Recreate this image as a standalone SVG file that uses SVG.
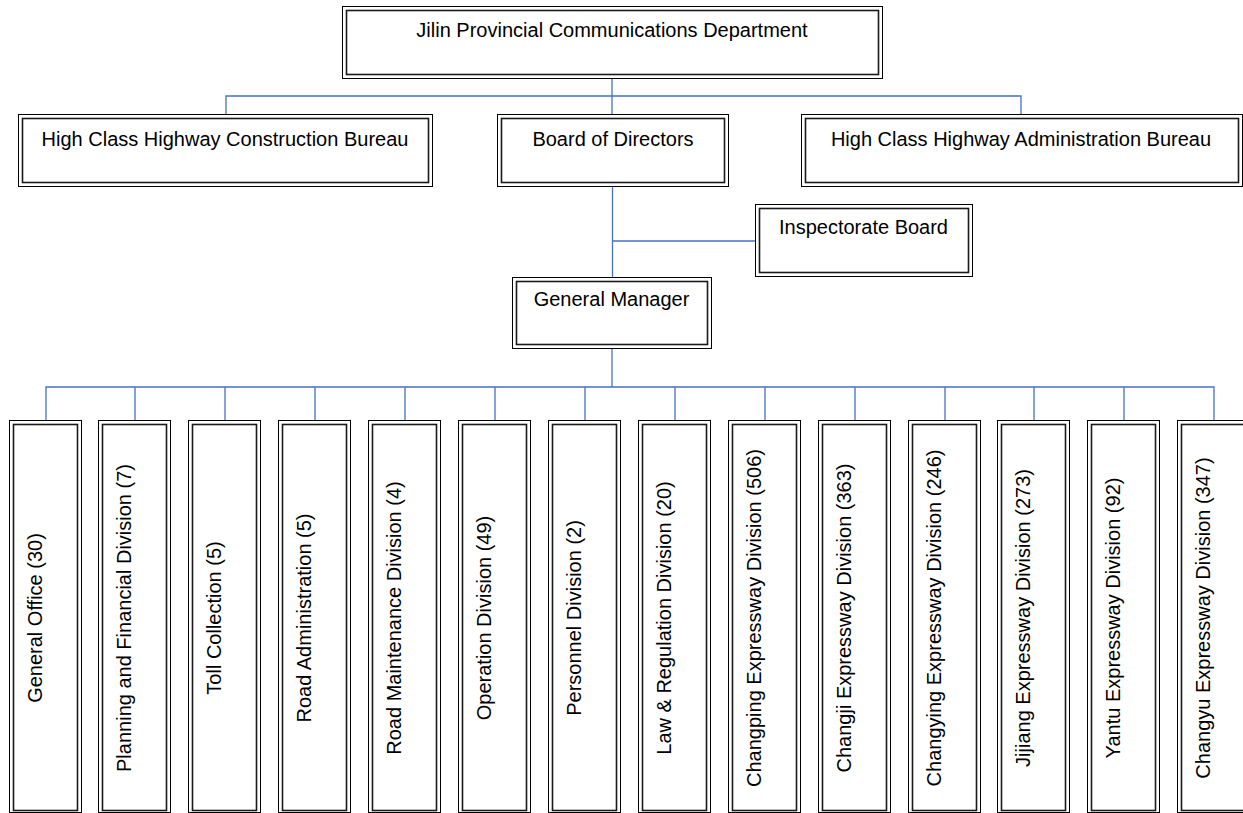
<svg xmlns="http://www.w3.org/2000/svg" width="1243" height="813" viewBox="0 0 1243 813">
<style>
.o{fill:#fff;stroke:#000;stroke-width:1}
.i{fill:none;stroke:#1a1a1a;stroke-width:1.6}
.t{font-family:"Liberation Sans",Arial,sans-serif;font-size:20px;fill:#000;text-anchor:middle}
.c{fill:none;stroke:#4472C4;stroke-width:1.3}
</style>
<rect width="1243" height="813" fill="#fff"/>
<g id="connectors">
<path class="c" d="M612,79V96M226,114V96H1021V114M612,96V114"/>
<path class="c" d="M612.5,186V277M612.5,241H755"/>
<path class="c" d="M612,348V387M46,420V387H1214V420M135,387V420M225,387V420M315,387V420M405,387V420M495,387V420M585,387V420M675,387V420M765,387V420M855,387V420M945,387V420M1034,387V420M1124,387V420"/>
</g>
<g id="n-dept"><rect class="o" x="342.5" y="6.5" width="540" height="72"/><rect class="i" x="346.5" y="10.5" width="532" height="64"/><text class="t" x="612" y="37">Jilin Provincial Communications Department</text></g>
<g id="n-construction"><rect class="o" x="18.5" y="114.5" width="414" height="72"/><rect class="i" x="22.5" y="118.5" width="406" height="64"/><text class="t" x="225" y="146">High Class Highway Construction Bureau</text></g>
<g id="n-board"><rect class="o" x="497.5" y="114.5" width="231" height="72"/><rect class="i" x="501.5" y="118.5" width="223" height="64"/><text class="t" x="613" y="146">Board of Directors</text></g>
<g id="n-admin"><rect class="o" x="801.5" y="114.5" width="441" height="72"/><rect class="i" x="805.5" y="118.5" width="433" height="64"/><text class="t" x="1021" y="146">High Class Highway Administration Bureau</text></g>
<g id="n-inspect"><rect class="o" x="755.5" y="204.5" width="217" height="72"/><rect class="i" x="759.5" y="208.5" width="209" height="64"/><text class="t" x="863.5" y="234">Inspectorate Board</text></g>
<g id="n-gm"><rect class="o" x="512.5" y="277.5" width="199" height="71"/><rect class="i" x="516.5" y="281.5" width="191" height="63"/><text class="t" x="611.5" y="306">General Manager</text></g>
<g id="d1"><rect class="o" x="9.5" y="420.5" width="72" height="392"/><rect class="i" x="13.5" y="424.5" width="64" height="386"/><text class="t" transform="translate(42,618) rotate(-90)">General Office (30)</text></g>
<g id="d2"><rect class="o" x="98.5" y="420.5" width="72" height="392"/><rect class="i" x="102.5" y="424.5" width="64" height="386"/><text class="t" transform="translate(131,618) rotate(-90)">Planning and Financial Division (7)</text></g>
<g id="d3"><rect class="o" x="188.5" y="420.5" width="72" height="392"/><rect class="i" x="192.5" y="424.5" width="64" height="386"/><text class="t" transform="translate(221,618) rotate(-90)">Toll Collection (5)</text></g>
<g id="d4"><rect class="o" x="278.5" y="420.5" width="72" height="392"/><rect class="i" x="282.5" y="424.5" width="64" height="386"/><text class="t" transform="translate(311,618) rotate(-90)">Road Administration (5)</text></g>
<g id="d5"><rect class="o" x="368.5" y="420.5" width="72" height="392"/><rect class="i" x="372.5" y="424.5" width="64" height="386"/><text class="t" transform="translate(401,618) rotate(-90)">Road Maintenance Division (4)</text></g>
<g id="d6"><rect class="o" x="458.5" y="420.5" width="72" height="392"/><rect class="i" x="462.5" y="424.5" width="64" height="386"/><text class="t" transform="translate(491,618) rotate(-90)">Operation Division (49)</text></g>
<g id="d7"><rect class="o" x="548.5" y="420.5" width="72" height="392"/><rect class="i" x="552.5" y="424.5" width="64" height="386"/><text class="t" transform="translate(581,618) rotate(-90)">Personnel Division (2)</text></g>
<g id="d8"><rect class="o" x="638.5" y="420.5" width="72" height="392"/><rect class="i" x="642.5" y="424.5" width="64" height="386"/><text class="t" transform="translate(671,618) rotate(-90)">Law &amp; Regulation Division (20)</text></g>
<g id="d9"><rect class="o" x="728.5" y="420.5" width="72" height="392"/><rect class="i" x="732.5" y="424.5" width="64" height="386"/><text class="t" transform="translate(761,618) rotate(-90)">Changping Expressway Division (506)</text></g>
<g id="d10"><rect class="o" x="818.5" y="420.5" width="72" height="392"/><rect class="i" x="822.5" y="424.5" width="64" height="386"/><text class="t" transform="translate(851,618) rotate(-90)">Changji Expressway Division (363)</text></g>
<g id="d11"><rect class="o" x="908.5" y="420.5" width="72" height="392"/><rect class="i" x="912.5" y="424.5" width="64" height="386"/><text class="t" transform="translate(941,618) rotate(-90)">Changying Expressway Division (246)</text></g>
<g id="d12"><rect class="o" x="997.5" y="420.5" width="72" height="392"/><rect class="i" x="1001.5" y="424.5" width="64" height="386"/><text class="t" transform="translate(1030,618) rotate(-90)">Jijiang Expressway Division (273)</text></g>
<g id="d13"><rect class="o" x="1087.5" y="420.5" width="72" height="392"/><rect class="i" x="1091.5" y="424.5" width="64" height="386"/><text class="t" transform="translate(1120,618) rotate(-90)">Yantu Expressway Division (92)</text></g>
<g id="d14"><rect class="o" x="1177.5" y="420.5" width="72" height="392"/><rect class="i" x="1181.5" y="424.5" width="64" height="386"/><text class="t" transform="translate(1210,618) rotate(-90)">Changyu Expressway Division (347)</text></g>
</svg>
